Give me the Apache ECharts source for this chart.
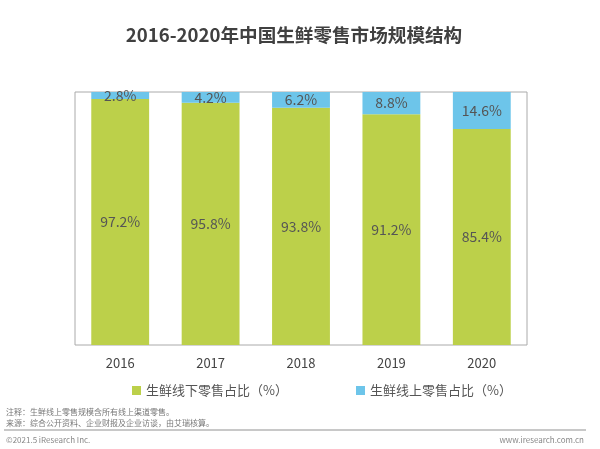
<!DOCTYPE html>
<html><head><meta charset="utf-8">
<script src="https://cdn.jsdelivr.net/npm/echarts@6/dist/echarts.min.js"></script>
<style>html,body{margin:0;padding:0;background:#fff;}#c{width:600px;height:449px;}</style>
</head><body><div id="c"></div>
<script>
const years = ['2016','2017','2018','2019','2020'];
const offlineShare = [97.2, 95.8, 93.8, 91.2, 85.4];
const onlineShare = [2.8, 4.2, 6.2, 8.8, 14.6];
const seriesNames = ['生鲜线下零售占比（%）', '生鲜线上零售占比（%）'];
const FONT = '"Noto Sans CJK SC", "Noto Sans", sans-serif';
const chart = echarts.init(document.getElementById('c'), null, {renderer:'canvas'});
chart.setOption({
  animation: false,
  textStyle: {fontFamily: FONT},
  title: {
    text: '2016-2020年中国生鲜零售市场规模结构',
    left: 289, top: 21, textAlign: 'center',
    textStyle: {fontSize: 18.6, fontWeight: 'bold', color: '#404040', fontFamily: FONT}
  },
  grid: {left: 75, right: 73, top: 92, bottom: 104, show: true, borderColor: '#aaaaaa', borderWidth: 1},
  legend: {
    top: 379, left: 127, itemGap: 68, itemWidth: 9, itemHeight: 9, icon: 'rect',
    textStyle: {fontSize: 13, color: '#555', fontFamily: FONT},
    data: seriesNames
  },
  xAxis: {
    type: 'category', data: years,
    axisLine: {show: false}, axisTick: {show: false},
    axisLabel: {fontSize: 13, color: '#444', margin: 12}
  },
  yAxis: {type: 'value', min: 0, max: 100, show: false, splitLine: {show: false}},
  series: [
    {name: seriesNames[0], type: 'bar', stack: 's', data: offlineShare, barWidth: '64%',
     itemStyle: {color: '#bcd04a'},
     label: {show: true, position: 'inside', formatter: '{c}%', fontSize: 14, color: '#555'}},
    {name: seriesNames[1], type: 'bar', stack: 's', data: onlineShare, barWidth: '64%',
     itemStyle: {color: '#6dc5ea'},
     label: {show: true, position: 'inside', formatter: '{c}%', fontSize: 14, color: '#555'}}
  ],
  graphic: [
    {type: 'text', left: 6, top: 408, style: {text: '注释：生鲜线上零售规模含所有线上渠道零售。', fontSize: 8, fill: '#777', fontFamily: FONT}},
    {type: 'text', left: 6, top: 419, style: {text: '来源：综合公开资料、企业财报及企业访谈，由艾瑞核算。', fontSize: 8, fill: '#777', fontFamily: FONT}},
    {type: 'line', shape: {x1: 4, y1: 430, x2: 586, y2: 430}, style: {stroke: '#c8c8c8', lineWidth: 2}},
    {type: 'text', left: 6, top: 436, style: {text: '©2021.5 iResearch Inc.', fontSize: 8, fill: '#888', fontFamily: FONT}},
    {type: 'text', right: 16, top: 436, style: {text: 'www.iresearch.com.cn', fontSize: 8, fill: '#888', fontFamily: FONT}}
  ]
});
</script></body></html>
